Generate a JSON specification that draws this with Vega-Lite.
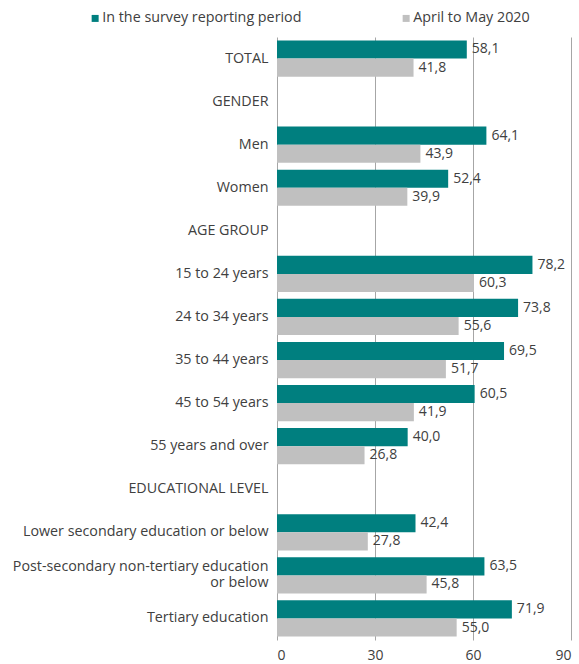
{
  "$schema": "https://vega.github.io/schema/vega-lite/v6.json",
  "width": 294,
  "height": 603,
  "autosize": {"type": "none"},
  "padding": {"left": 277, "top": 37, "right": 8, "bottom": 24},
  "config": {
    "font": "Open Sans",
    "view": {"stroke": null},
    "locale": {"number": {"decimal": ",", "thousands": " ", "grouping": [3], "currency": ["", ""]}}
  },
  "data": {
    "values": [
      {"category": "TOTAL", "series": "In the survey reporting period", "value": 58.1},
      {"category": "TOTAL", "series": "April to May 2020", "value": 41.8},
      {"category": "Men", "series": "In the survey reporting period", "value": 64.1},
      {"category": "Men", "series": "April to May 2020", "value": 43.9},
      {"category": "Women", "series": "In the survey reporting period", "value": 52.4},
      {"category": "Women", "series": "April to May 2020", "value": 39.9},
      {"category": "15 to 24 years", "series": "In the survey reporting period", "value": 78.2},
      {"category": "15 to 24 years", "series": "April to May 2020", "value": 60.3},
      {"category": "24 to 34 years", "series": "In the survey reporting period", "value": 73.8},
      {"category": "24 to 34 years", "series": "April to May 2020", "value": 55.6},
      {"category": "35 to 44 years", "series": "In the survey reporting period", "value": 69.5},
      {"category": "35 to 44 years", "series": "April to May 2020", "value": 51.7},
      {"category": "45 to 54 years", "series": "In the survey reporting period", "value": 60.5},
      {"category": "45 to 54 years", "series": "April to May 2020", "value": 41.9},
      {"category": "55 years and over", "series": "In the survey reporting period", "value": 40.0},
      {"category": "55 years and over", "series": "April to May 2020", "value": 26.8},
      {"category": "Lower secondary education or below ", "series": "In the survey reporting period", "value": 42.4},
      {"category": "Lower secondary education or below ", "series": "April to May 2020", "value": 27.8},
      {"category": "Post-secondary non-tertiary education|or below", "series": "In the survey reporting period", "value": 63.5},
      {"category": "Post-secondary non-tertiary education|or below", "series": "April to May 2020", "value": 45.8},
      {"category": "Tertiary education", "series": "In the survey reporting period", "value": 71.9},
      {"category": "Tertiary education", "series": "April to May 2020", "value": 55.0}
    ]
  },
  "encoding": {
    "y": {
      "field": "category",
      "type": "nominal",
      "scale": {
        "domain": ["TOTAL", "GENDER", "Men", "Women", "AGE GROUP", "15 to 24 years", "24 to 34 years", "35 to 44 years", "45 to 54 years", "55 years and over", "EDUCATIONAL LEVEL", "Lower secondary education or below ", "Post-secondary non-tertiary education|or below", "Tertiary education"],
        "paddingInner": 0.16,
        "paddingOuter": 0.08
      },
      "axis": {
        "title": null,
        "domain": false,
        "ticks": false,
        "labelExpr": "split(datum.label, '|')",
        "labelFontSize": 14.3,
        "labelColor": "#404040",
        "labelPadding": 9,
        "labelLineHeight": 16,
        "labelLimit": 300,
        "labelOffset": {"condition": {"test": "indexof(datum.value, '|') >= 0", "value": -8}, "value": 0}
      }
    },
    "yOffset": {
      "field": "series",
      "type": "nominal",
      "scale": {"domain": ["In the survey reporting period", "April to May 2020"], "paddingInner": 0}
    },
    "x": {
      "field": "value",
      "type": "quantitative",
      "scale": {"domain": [0, 90], "nice": false},
      "axis": {
        "title": null,
        "values": [0, 30, 60, 90],
        "domain": false,
        "ticks": false,
        "grid": true,
        "gridColor": "#a6a6a6",
        "gridWidth": 1,
        "labelFontSize": 14,
        "labelColor": "#404040",
        "labelPadding": 8,
        "format": "d"
      }
    }
  },
  "layer": [
    {
      "mark": {"type": "bar"},
      "encoding": {
        "color": {
          "field": "series",
          "type": "nominal",
          "scale": {"domain": ["In the survey reporting period", "April to May 2020"], "range": ["#007f7f", "#c0c0c0"]},
          "legend": {
            "title": null,
            "orient": "none",
            "legendX": -189,
            "legendY": -26,
            "direction": "horizontal",
            "symbolType": "square",
            "symbolSize": 49,
            "symbolStrokeWidth": 0,
            "labelFontSize": 14.3,
            "labelColor": "#404040",
            "labelOffset": 0,
            "columnPadding": 97,
            "labelLimit": 300
          }
        }
      }
    },
    {
      "mark": {"type": "text", "align": "left", "baseline": "middle", "dx": 5, "fontSize": 14, "color": "#404040"},
      "encoding": {
        "text": {"field": "value", "type": "quantitative", "format": ".1f"}
      }
    }
  ]
}
